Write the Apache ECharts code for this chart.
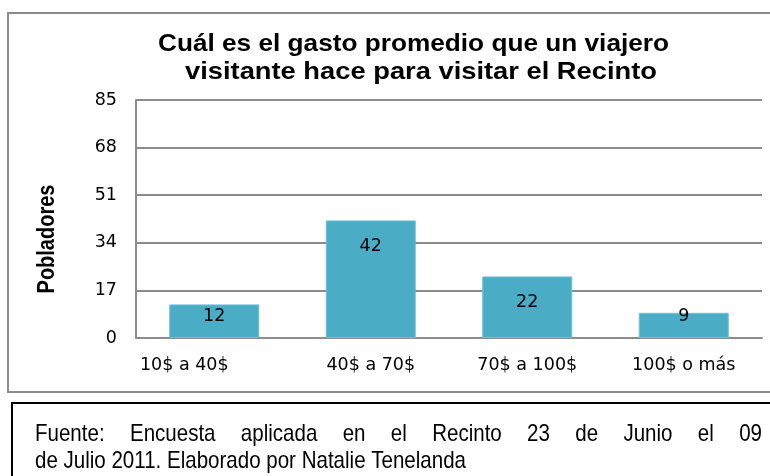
<!DOCTYPE html>
<html>
<head>
<meta charset="utf-8">
<script src="https://cdn.jsdelivr.net/npm/echarts@6/dist/echarts.min.js"></script>
<style>html,body{margin:0;padding:0;background:#fff;}#c{width:770px;height:476px;}</style>
</head>
<body>
<div id="c"></div>
<script>
var categories = ['10$ a 40$', '40$ a 70$', '70$ a 100$', '100$ o más'];
var values = [12, 42, 22, 9];
var yTicks = [0, 17, 34, 51, 68, 85];
var titleLines = ['Cuál es el gasto promedio que un viajero', 'visitante hace para visitar el Recinto'];
var yName = 'Pobladores';
var sourceLine1 = 'Fuente: Encuesta aplicada en el Recinto 23 de Junio el 09';
var sourceLine2 = 'de Julio 2011. Elaborado por Natalie Tenelanda';

var FONT = '"Liberation Sans", Arial, sans-serif';
var AXFONT = '"DejaVu Sans", sans-serif';
var chart = echarts.init(document.getElementById('c'), null, {renderer: 'canvas'});

var ctx = document.createElement('canvas').getContext('2d');
function mw(t, font) { ctx.font = font; return ctx.measureText(t).width; }

var graphics = [
  {type: 'rect', x: 8, y: 13, shape: {width: 780, height: 379}, style: {fill: 'none', stroke: '#8c8c8c', lineWidth: 2}, z: -1},
  {type: 'rect', x: 12, y: 403, shape: {width: 780, height: 100}, style: {fill: 'none', stroke: '#000', lineWidth: 2}, z: -1}
];

// title (stretched horizontally like the reference)
var tFont = 'bold 24px ' + FONT;
var tTargets = [[511, 413.5, 44], [472, 421, 72]];
titleLines.forEach(function (line, i) {
  var t = tTargets[i];
  graphics.push({type: 'text', x: t[1], y: t[2], scaleX: t[0] / mw(line, tFont),
    style: {text: line, font: tFont, fill: '#000', align: 'center', verticalAlign: 'middle'}});
});

// axis name
var nFont = 'bold 20px ' + FONT;
graphics.push({type: 'text', x: 48, y: 239, rotation: Math.PI / 2, scaleY: 1.15,
  style: {text: yName, font: nFont, fill: '#000', align: 'center', verticalAlign: 'middle'}});

// source text (narrow), line 1 justified
var sFont = '24px ' + FONT;
var sScale = 431 / mw(sourceLine2, sFont);
graphics.push({type: 'text', x: 35, y: 461, scaleX: sScale,
  style: {text: sourceLine2, font: sFont, fill: '#000', align: 'left', verticalAlign: 'middle'}});
var words = sourceLine1.split(' ');
var widths = words.map(function (w) { return mw(w, sFont) * sScale; });
var total = widths.reduce(function (a, b) { return a + b; }, 0);
var gap = (762 - 35 - total) / (words.length - 1);
var cx = 35;
words.forEach(function (w, i) {
  graphics.push({type: 'text', x: cx, y: 434, scaleX: sScale,
    style: {text: w, font: sFont, fill: '#000', align: 'left', verticalAlign: 'middle'}});
  cx += widths[i] + gap;
});

var labelDist = [3, 17, 17, -5];
var catPad = [[0, 60, 0, 0], 0, 0, 0];
chart.setOption({
  animation: false,
  grid: {left: 136, right: 8, top: 100, bottom: 138, containLabel: false},
  xAxis: {
    type: 'category',
    data: categories.map(function (c, i) { return {value: c, textStyle: {padding: catPad[i]}}; }),
    axisLine: {show: true, lineStyle: {color: '#8c8c8c', width: 2}},
    axisTick: {show: false},
    axisLabel: {color: '#000', fontFamily: AXFONT, fontSize: 17.5, margin: 18}
  },
  yAxis: {
    type: 'value', min: 0, max: 85, interval: 17,
    axisLine: {show: true, lineStyle: {color: '#8c8c8c', width: 2}},
    axisTick: {show: false},
    splitLine: {lineStyle: {color: '#8c8c8c', width: 2}},
    axisLabel: {color: '#000', fontFamily: AXFONT, fontSize: 17.5, margin: 19,
      formatter: function (v) { return yTicks.indexOf(v) >= 0 ? String(v) : ''; }}
  },
  series: [{
    type: 'bar', barWidth: 90,
    itemStyle: {color: '#4BACC6', borderColor: '#6fc0d6', borderWidth: 1},
    data: values.map(function (v, i) {
      return {value: v, label: {distance: labelDist[i]}};
    }),
    label: {show: true, position: 'insideTop', color: '#000', fontFamily: AXFONT, fontSize: 17.5}
  }],
  graphic: graphics
});
</script>
</body>
</html>
